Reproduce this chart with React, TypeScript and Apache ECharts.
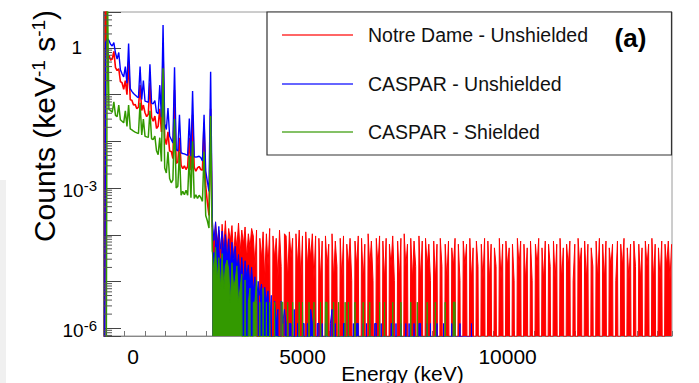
import React, { useEffect, useRef } from 'react';
import * as echarts from 'echarts';

const FONT = '"Liberation Sans", Arial, Helvetica, sans-serif';

const SERIES_NAMES = ['Notre Dame - Unshielded', 'CASPAR - Unshielded', 'CASPAR - Shielded'];
const SERIES_COLORS = ['#ff0000', '#0000ff', '#339900'];
const SERIES_WIDTHS = [1.6, 1.4, 1.5];

// histogram binning (keV per bin); low-energy arrays hold rates (keV^-1 s^-1) for bins 0..65
const BIN_KEV = 40;
const TAIL_START_BIN = 66;

const RED_LOW = [
  0, 30, 0.62, 0.7, 0.55, 0.58, 0.85, 0.38, 0.33, 0.36,
  0.19, 0.18, 0.13, 0.2, 0.1, 0.51, 0.078, 0.076, 0.06, 0.062,
  0.05, 0.054, 0.16, 0.046, 0.06, 0.041, 0.034, 0.038, 0.18, 0.033,
  0.027, 0.035, 0.019, 0.021, 0.05, 0.016, 0.83, 0.012, 0.0085, 0.016,
  0.0062, 0.0061, 0.0043, 0.126, 0.0034, 0.0036, 0.012, 0.0031, 0.0026, 0.003,
  0.0025, 0.0029, 0.012, 0.0024, 0.037, 0.0028, 0.0023, 0.0027, 0.0029, 0.0025,
  0.0024, 0.025, 0.0011, 0.0005, 0.00026, 0.05,
];
const BLUE_LOW = [
  0, 1.3, 1.6, 1.45, 1.2, 1.1, 1.3, 0.78, 0.58, 0.8,
  0.34, 0.28, 0.24, 0.4, 0.175, 1.25, 0.135, 0.118, 0.106, 0.098,
  0.091, 0.086, 0.4, 0.079, 0.2, 0.073, 0.071, 0.069, 0.45, 0.066,
  0.064, 0.075, 0.042, 0.039, 0.16, 0.033, 3.1, 0.024, 0.018, 0.052,
  0.013, 0.011, 0.0093, 0.385, 0.0067, 0.0062, 0.037, 0.0057, 0.0055, 0.0054,
  0.0052, 0.005, 0.031, 0.0048, 0.12, 0.0047, 0.0046, 0.0047, 0.0048, 0.0045,
  0.0038, 0.037, 0.0023, 0.0014, 0.00085, 0.31,
];
const GREEN_LOW = [
  0, 0, 30, 0.048, 0.046, 0.042, 0.07, 0.036, 0.034, 0.06,
  0.029, 0.027, 0.025, 0.045, 0.021, 0.06, 0.0185, 0.0176, 0.0166, 0.0158,
  0.0152, 0.0147, 0.067, 0.0137, 0.03, 0.0129, 0.0125, 0.0122, 0.045, 0.0114,
  0.011, 0.013, 0.0063, 0.0052, 0.012, 0.0037, 0.37, 0.0027, 0.0021, 0.006,
  0.0016, 0.0013, 0.0015, 0.03, 0.001, 0.0011, 0.006, 0.0007, 0.00085, 0.00072,
  0.0009, 0.0007, 0.005, 0.00062, 0.01, 0.0006, 0.00072, 0.0006, 0.0007, 0.00063,
  0.00052, 0.006, 0.00026, 0.0002, 0.00014, 0.035,
];

// high-energy tails as counts per bin (one count = the unit below)
const RED_COUNT_UNIT = 1.05e-5;
const BLUE_COUNT_UNIT = 1.26e-6;
const GREEN_COUNT_UNIT = 3.6e-6;

const RED_TAIL_COUNTS = [
  14, 4, 18, 6, 12, 3, 16, 5, 19, 4, 13, 7, 15, 3, 11, 5, 17, 4, 12, 6, 14, 3, 10, 5, 13,
  9, 2, 12, 0, 8, 3, 11, 1, 10, 2, 13, 0, 9, 3, 8, 1, 12, 2, 0, 10,
  9, 1, 11, 3, 8, 0, 10, 2, 12, 1, 9, 0, 11, 2, 8, 3, 10, 1, 9, 0,
  8, 1, 7, 0, 9, 2, 6, 0, 10, 1, 7, 2, 0, 8, 1, 9, 0, 6, 2, 8,
  1, 0, 7, 2, 9, 0, 8, 1, 6, 0, 10, 2, 7, 1, 0, 8, 2, 9, 0, 7,
  1, 8, 0, 6, 2, 9, 1, 0, 7, 1, 8, 0, 10, 2, 6, 0, 8, 1, 7, 2,
  0, 9, 1, 7, 0, 8, 2, 6, 1, 0,
  7, 1, 6, 0, 8, 2, 0, 6, 1, 7, 0, 5, 2, 8, 0, 6, 1, 0, 7, 2,
  6, 0, 8, 1, 5, 0, 7, 2, 0, 6, 1, 8, 0, 7, 1, 6, 0, 5, 2, 0,
  8, 1, 6, 0, 7, 2, 5, 0, 6, 1, 0, 8, 2, 7, 0, 6, 1, 5, 0, 7,
  1, 0, 6, 2, 8, 0, 5, 1, 7, 0, 6, 2, 0, 7, 1, 6, 0, 8, 1, 5,
  0, 6, 2, 7, 0, 1, 6, 0, 8, 2, 5, 0, 7, 1, 6, 0, 5, 2, 0, 7,
  1, 8, 0, 6, 1, 7, 0, 5, 2, 6, 0, 1, 7, 0, 6, 2, 8, 0, 5, 1,
  6, 0, 7, 2, 0, 6, 1, 5, 0, 7, 2, 6, 0, 8, 1, 6, 0, 5, 1, 7,
  0, 6, 2, 7, 1, 6,
];
const BLUE_TAIL_COUNTS = [
  180, 60, 150, 45, 120, 40, 95,
  30, 80, 22, 65, 18, 55, 25, 45,
  14, 30, 9, 26, 7, 22, 10, 18, 6, 16,
  5, 10, 3, 8, 4, 7, 2, 6, 3, 5,
  1, 4, 0, 3, 1, 2, 0, 3, 1, 2,
  1, 0, 1, 1, 0, 2, 0, 1, 0, 0, 1, 1, 0, 1, 0, 2, 1, 0, 0, 1, 1, 0, 1, 0, 1,
  0, 0, 1, 2, 0, 1, 0, 1, 0, 0, 1, 1, 0, 1, 0, 0, 1, 0, 1, 1, 0, 0, 1, 0, 1,
  0, 1, 0, 0, 1, 1, 0, 0, 1, 0, 1, 0, 0, 0, 1, 1, 0, 1, 0, 0,
  1, 0, 0, 1, 0, 1, 0, 0, 1, 0, 0, 1, 1, 0, 0, 0, 1, 0, 1, 0,
  0, 0, 1, 0, 0, 0, 1, 0, 0, 0, 0, 1, 0, 0, 0, 0, 1, 0, 0, 0, 0, 0, 0, 1, 0,
];
const GREEN_TAIL_COUNTS = [
  12, 4, 15, 3, 9, 2, 11, 2, 6, 8,
  5, 1, 7, 2, 3, 6, 1, 2, 4, 0,
  3, 0, 1, 2, 0, 1, 1, 3, 0, 1, 0, 2, 0, 1, 0,
  1, 0, 0, 1, 0, 0, 0, 1, 1, 0, 0, 1, 0, 0, 1, 0, 0, 0, 1, 0, 1, 0, 0, 0, 1,
  0, 0, 1, 0, 0, 0, 1, 0, 0, 1, 1, 0, 0, 0, 1, 0, 0, 1, 0, 0, 0, 1, 0, 1, 0,
  0, 0, 1, 0, 0, 0, 0, 1, 0, 0, 0, 1, 0, 0, 0, 0, 0, 1, 0, 0, 1, 0, 0, 0, 0,
  1, 0, 0, 0, 0, 1, 0, 0, 0, 0, 0, 1, 0, 0, 0, 1, 0, 0, 0, 0, 0, 1, 0, 0, 0,
  0, 1, 0, 0, 0, 0, 0, 1, 0, 0, 0, 0, 1, 1, 0,
];

// empty bins are drawn far below the axis floor (log scale cannot show zero)
const EMPTY_BIN_VALUE = 1e-12;

const X_MIN = 0;
const X_MAX = 13850;
const X_TICK_STEP = 500;
const X_TICK_LABELS = [0, 5000, 10000];
const Y_MIN = 6.8e-7;
const Y_MAX = 5.9;
const Y_LABEL_EXPONENTS = [0, -3, -6];
const Y_DECADES = [-7, -6, -5, -4, -3, -2, -1, 0];
const Y_MINOR_MULTIPLIERS = [2, 3, 4, 5, 6, 7, 8, 9];

function lowPoints(low: number[], tail: number[], unit: number) {
  const pts: number[][] = low.map((v, i) => [i * BIN_KEV, v > 0 ? v : EMPTY_BIN_VALUE]);
  // join onto the first tail bin so the histogram line is continuous
  pts.push([TAIL_START_BIN * BIN_KEV, tail[0] > 0 ? tail[0] * unit : EMPTY_BIN_VALUE]);
  return pts;
}
function tailPoints(tail: number[], unit: number) {
  return tail.map((c, i) => [(TAIL_START_BIN + i) * BIN_KEV, c > 0 ? c * unit : EMPTY_BIN_VALUE]);
}

export default function App() {
  const ref = useRef<HTMLDivElement>(null);

  useEffect(() => {
    if (!ref.current) return;
    const chart = echarts.init(ref.current, undefined, { renderer: 'svg' });

    const lows = [RED_LOW, BLUE_LOW, GREEN_LOW];
    const tails = [RED_TAIL_COUNTS, BLUE_TAIL_COUNTS, GREEN_TAIL_COUNTS];
    const units = [RED_COUNT_UNIT, BLUE_COUNT_UNIT, GREEN_COUNT_UNIT];

    const minorTicks: number[][] = [];
    Y_DECADES.forEach((d) =>
      Y_MINOR_MULTIPLIERS.forEach((k) => {
        const v = k * Math.pow(10, d);
        if (v > Y_MIN && v < Y_MAX) minorTicks.push([X_MIN, v]);
      })
    );

    const spectrumSeries: any[] = [];
    SERIES_NAMES.forEach((name, i) => {
      spectrumSeries.push({
        name,
        type: 'line',
        data: lowPoints(lows[i], tails[i], units[i]),
        showSymbol: false,
        symbol: 'none',
        clip: true,
        silent: true,
        lineStyle: { color: SERIES_COLORS[i], width: SERIES_WIDTHS[i] },
        itemStyle: { color: SERIES_COLORS[i] },
        z: 2,
      });
      spectrumSeries.push({
        name,
        type: 'line',
        data: tailPoints(tails[i], units[i]),
        showSymbol: false,
        symbol: 'none',
        clip: true,
        silent: true,
        lineStyle: { color: SERIES_COLORS[i], width: 1 },
        itemStyle: { color: SERIES_COLORS[i] },
        areaStyle: { color: SERIES_COLORS[i], opacity: 1, origin: 'start' },
        z: 2,
      });
    });

    const legendY = [35, 84, 132];
    const legendGraphics: any[] = [];
    SERIES_NAMES.forEach((name, i) => {
      legendGraphics.push({
        type: 'line',
        z: 101,
        shape: { x1: 282, y1: legendY[i], x2: 353, y2: legendY[i] },
        style: { stroke: SERIES_COLORS[i], lineWidth: 1.5, opacity: 0.8 },
      });
      legendGraphics.push({
        type: 'text',
        z: 101,
        x: 368,
        y: legendY[i],
        style: {
          text: name,
          fontFamily: FONT,
          fontSize: 19.5,
          fill: '#111',
          align: 'left',
          verticalAlign: 'middle',
        },
      });
    });

    const option: any = {
      animation: false,
      backgroundColor: '#ffffff',
      grid: {
        left: 104,
        right: 27,
        top: 12,
        bottom: 47,
        show: true,
        borderColor: '#9a9a9a',
        borderWidth: 1,
        containLabel: false,
        outerBoundsMode: 'none',
      },
      xAxis: {
        type: 'value',
        min: X_MIN,
        max: X_MAX,
        interval: X_TICK_STEP,
        axisLine: { show: true, onZero: false, lineStyle: { color: '#888', width: 1 } },
        axisTick: { show: true, inside: true, length: 5, lineStyle: { color: '#777' } },
        splitLine: { show: false },
        axisLabel: {
          margin: 10,
          formatter: (v: number) => {
            if (!X_TICK_LABELS.includes(v)) return '';
            return v === 0 ? '{z|0}' : `{n|${v}}`;
          },
          rich: {
            z: { fontSize: 21, fontFamily: FONT, color: '#000', padding: [0, 0, 0, 58] },
            n: { fontSize: 21, fontFamily: FONT, color: '#000', padding: [0, 13, 0, 0] },
          },
        },
      },
      yAxis: {
        type: 'log',
        logBase: 10,
        min: Y_MIN,
        max: Y_MAX,
        axisLine: { show: true, onZero: false, lineStyle: { color: '#666', width: 2 } },
        axisTick: { show: true, inside: true, length: 17, lineStyle: { color: '#444' } },
        splitLine: { show: false },
        axisLabel: {
          margin: 7,
          formatter: (v: number) => {
            const e = Math.log10(v);
            const r = Math.round(e);
            if (Math.abs(e - r) > 1e-6 || !Y_LABEL_EXPONENTS.includes(r)) return '';
            if (r === 0) return '{one|1}';
            return `{base|10}{sup|${r}}`;
          },
          rich: {
            one: { fontSize: 19, fontFamily: FONT, color: '#000', lineHeight: 20, padding: [0, 15, 0, 0] },
            base: { fontSize: 19, fontFamily: FONT, color: '#000', lineHeight: 20, padding: [4, 0, 0, 0] },
            sup: { fontSize: 15, fontFamily: FONT, color: '#000', lineHeight: 13, verticalAlign: 'top' },
          },
        },
      },
      series: [
        ...spectrumSeries,
        {
          type: 'custom',
          silent: true,
          clip: false,
          z: 3,
          data: minorTicks,
          encode: { x: 0, y: 1 },
          renderItem: (_p: any, api: any) => {
            const pt = api.coord([api.value(0), api.value(1)]);
            return {
              type: 'line',
              shape: { x1: pt[0], y1: pt[1], x2: pt[0] + 8, y2: pt[1] },
              style: { stroke: '#555', lineWidth: 1 },
            };
          },
        },
      ],
      graphic: [
        {
          type: 'rect',
          z: -1,
          shape: { x: 0, y: 180, width: 6, height: 203 },
          style: { fill: '#f0f0f0' },
        },
        {
          type: 'text',
          x: 44,
          y: 126,
          rotation: Math.PI / 2,
          style: {
            text: 'Counts (keV{sup|-1} s{sup|-1})',
            fontFamily: FONT,
            fontSize: 30,
            fill: '#000',
            align: 'center',
            verticalAlign: 'middle',
            rich: {
              sup: { fontSize: 19, fontFamily: FONT, fill: '#000', verticalAlign: 'top', lineHeight: 20 },
            },
          },
        },
        {
          type: 'text',
          x: 402.5,
          y: 373,
          style: {
            text: 'Energy (keV)',
            fontFamily: FONT,
            fontSize: 21,
            fill: '#000',
            align: 'center',
            verticalAlign: 'middle',
          },
        },
        {
          type: 'rect',
          z: 100,
          shape: { x: 267, y: 12, width: 404.5, height: 143 },
          style: { fill: '#ffffff', stroke: '#333', lineWidth: 1.2 },
        },
        ...legendGraphics,
        {
          type: 'text',
          z: 101,
          x: 630.5,
          y: 38,
          style: {
            text: '(a)',
            fontFamily: FONT,
            fontWeight: 'bold',
            fontSize: 26,
            fill: '#000',
            align: 'center',
            verticalAlign: 'middle',
          },
        },
      ],
    };

    chart.setOption(option);
    return () => chart.dispose();
  }, []);

  return (
    <div
      ref={ref}
      style={{ position: 'fixed', left: 0, top: 0, width: 699, height: 383, background: '#fff' }}
    />
  );
}
